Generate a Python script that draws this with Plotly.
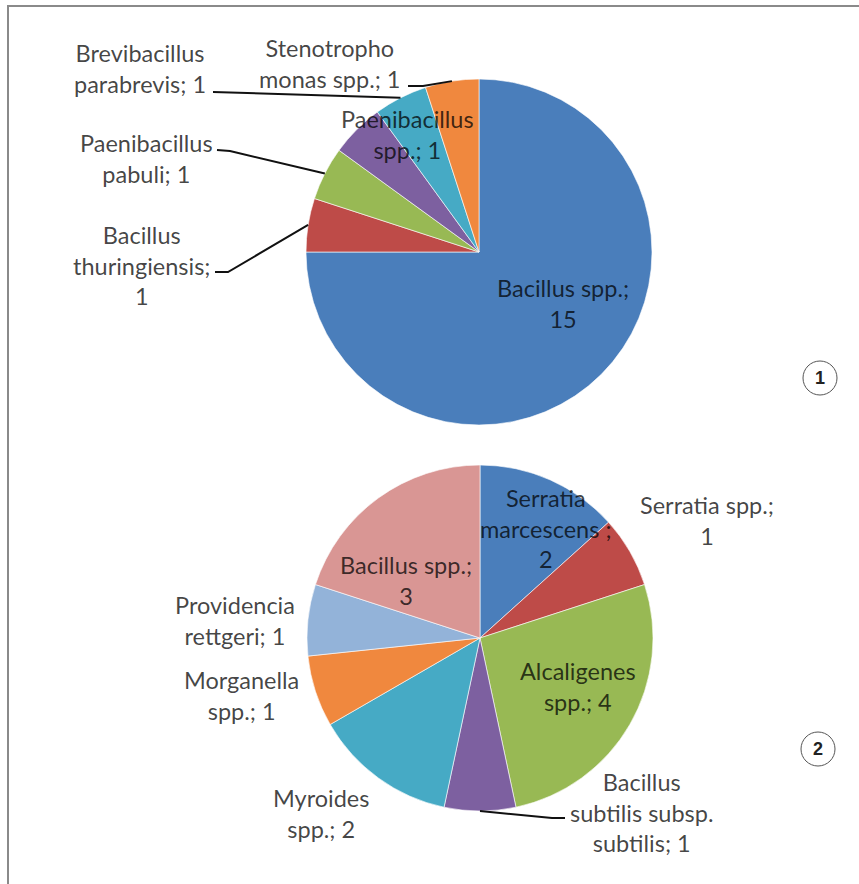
import math
import plotly.graph_objects as go

# ---------------- data ----------------
top_labels = ["Bacillus spp.", "Bacillus thuringiensis", "Paenibacillus pabuli",
              "Paenibacillus spp.", "Brevibacillus parabrevis", "Stenotrophomonas spp."]
top_values = [15, 1, 1, 1, 1, 1]
top_texts = ["Bacillus spp.;<br>15", "Bacillus<br>thuringiensis;<br>1", "Paenibacillus<br>pabuli; 1",
             "Paenibacillus<br>spp.; 1", "Brevibacillus<br>parabrevis; 1", "Stenotropho<br>monas spp.; 1"]

bot_labels = ["Serratia marcescens", "Serratia spp.", "Alcaligenes spp.",
              "Bacillus subtilis subsp. subtilis", "Myroides spp.", "Morganella spp.",
              "Providencia rettgeri", "Bacillus spp."]
bot_values = [2, 1, 4, 1, 2, 1, 1, 3]
bot_texts = ["Serratia<br>marcescens ;<br>2", "Serratia spp.;<br>1", "Alcaligenes<br>spp.; 4",
             "Bacillus<br>subtilis subsp.<br>subtilis; 1", "Myroides<br>spp.; 2", "Morganella<br>spp.; 1",
             "Providencia<br>rettgeri; 1", "Bacillus spp.;<br>3"]

panel_numbers = ["1", "2"]

# ---------------- styles ----------------
W, H = 859, 884
top_colors = ["#4A7EBB", "#BE4B48", "#98B954", "#7D60A0", "#46AAC5", "#F0883E"]
bot_colors = ["#4A7EBB", "#BE4B48", "#98B954", "#7D60A0", "#46AAC5", "#F0883E", "#93B3D9", "#D99694"]
FONT = "Lato"
FS = 23.5
TXT = "rgba(0,0,0,0.74)"


def px(x):
    return x / W


def py(y):
    return 1 - y / H


top_geo = dict(cx=479, cy=252, r=173)
bot_geo = dict(cx=480, cy=638, r=173)

# label block centres (pixels) and leader elbows
top_pos = [(563, 303), (141, 265), (146, 158), (407, 134), (140, 69), (330, 64)]
top_lead = [None, [(215, 272), (228, 272)], [(217, 150), (230, 151)], None,
            [(213, 92)], [(408, 86), (423, 86)]]
bot_pos = [(546, 528), (707, 520), (578, 686), (641, 812), (321, 813), (241, 695), (235, 620), (406, 580)]
bot_lead = [None, None, None, [(565, 818), (552, 818)], None, None, None, None]


def dom(g):
    return dict(x=[px(g["cx"] - g["r"]), px(g["cx"] + g["r"])],
                y=[py(g["cy"] + g["r"]), py(g["cy"] - g["r"])])


fig = go.Figure()
for labels, values, colors, g in [(top_labels, top_values, top_colors, top_geo),
                                  (bot_labels, bot_values, bot_colors, bot_geo)]:
    fig.add_trace(go.Pie(labels=labels, values=values, sort=False, direction="clockwise",
                         rotation=0, textinfo="none", hoverinfo="label+value",
                         marker=dict(colors=colors, line=dict(color="rgba(255,255,255,0.6)", width=1)),
                         domain=dom(g), showlegend=False))

annotations = []
shapes = []


def add_labels(values, texts, pos, leads, g):
    total = sum(values)
    cum = 0
    for v, t, p, ld in zip(values, texts, pos, leads):
        mid = (cum + v / 2) / total * 2 * math.pi
        cum += v
        annotations.append(dict(x=px(p[0]), y=py(p[1]), xref="paper", yref="paper",
                                text=t, showarrow=False, xanchor="center", yanchor="middle",
                                align="center", font=dict(family=FONT, size=FS, color=TXT)))
        if ld:
            ex = g["cx"] + g["r"] * math.sin(mid)
            ey = g["cy"] - g["r"] * math.cos(mid)
            pts = ld + [(ex, ey)]
            path = "M " + " L ".join(f"{px(a)},{py(b)}" for a, b in pts)
            shapes.append(dict(type="path", path=path, xref="paper", yref="paper",
                               line=dict(color="#111111", width=2)))


add_labels(top_values, top_texts, top_pos, top_lead, top_geo)
add_labels(bot_values, bot_texts, bot_pos, bot_lead, bot_geo)

# border (top + left visible)
shapes.append(dict(type="path", path=f"M {px(8)},{py(890)} L {px(8)},{py(6)} L {px(870)},{py(6)}",
                   xref="paper", yref="paper", line=dict(color="#8a8a8a", width=2)))

# panel numbers in circles
for num, (cx, cy) in zip(panel_numbers, [(820, 378), (818, 749)]):
    rr = 17
    shapes.append(dict(type="circle", xref="paper", yref="paper",
                       x0=px(cx - rr), x1=px(cx + rr), y0=py(cy + rr), y1=py(cy - rr),
                       line=dict(color="#555555", width=1)))
    annotations.append(dict(x=px(cx), y=py(cy), xref="paper", yref="paper", text=f"<b>{num}</b>",
                            showarrow=False, xanchor="center", yanchor="middle",
                            font=dict(family="Liberation Sans", size=18, color="#222222")))

fig.update_layout(width=W, height=H, margin=dict(l=0, r=0, t=0, b=0),
                  paper_bgcolor="white", plot_bgcolor="white",
                  annotations=annotations, shapes=shapes)

fig.write_html("out.html")
